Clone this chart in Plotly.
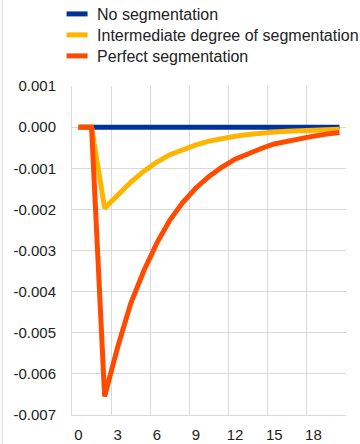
import plotly.graph_objects as go

periods = list(range(21))
x_tick_vals = [0, 3, 6, 9, 12, 15, 18]
x_tick_text = ["0", "3", "6", "9", "12", "15", "18"]
y_tick_vals = [0.001, 0.0, -0.001, -0.002, -0.003, -0.004, -0.005, -0.006, -0.007]
y_tick_text = ["0.001", "0.000", "-0.001", "-0.002", "-0.003", "-0.004", "-0.005", "-0.006", "-0.007"]

series_names = ["No segmentation", "Intermediate degree of segmentation", "Perfect segmentation"]
no_segmentation = [0.0] * 21
intermediate = [0.0, 0.0, -0.00197, -0.00165, -0.00134, -0.00107, -0.00085, -0.00067,
                -0.00054, -0.00043, -0.00034, -0.00027, -0.00022, -0.00018, -0.00014,
                -0.00012, -0.00010, -0.00008, -0.00007, -0.00006, -0.00005]
perfect = [0.0, 0.0, -0.00655, -0.00535, -0.00429, -0.00350, -0.00282, -0.00226,
           -0.00183, -0.00148, -0.00120, -0.00097, -0.00078, -0.00064, -0.00052,
           -0.00041, -0.00034, -0.00027, -0.00022, -0.00017, -0.00013]
colors = ["#003299", "#FFB400", "#FF4B00"]
legend_ids = ["legend", "legend2", "legend3"]

fig = go.Figure()
for name, vals, col in zip(series_names, [no_segmentation, intermediate, perfect], colors):
    fig.add_trace(go.Scatter(x=periods, y=vals, mode="lines", name=name,
                             line=dict(color=col, width=5), showlegend=False))
for name, col, lid in zip(series_names, colors, legend_ids):
    fig.add_trace(go.Scatter(x=[None], y=[None], mode="markers", name=name, legend=lid,
                             marker=dict(symbol="line-ew", size=15, color=col,
                                         line=dict(color=col, width=5))))

grid = "#d9d9d9"
leg_common = dict(x=-0.0545, xanchor="left", yanchor="middle", itemwidth=30,
                  font=dict(size=16, color="#222222"), bgcolor="rgba(0,0,0,0)")
fig.update_layout(
    width=360, height=444,
    margin=dict(l=72, r=14, t=86, b=29, autoexpand=False),
    paper_bgcolor="white", plot_bgcolor="white",
    font=dict(family="Liberation Sans, Arial, sans-serif", size=15, color="#222222"),
    legend=dict(y=1.2188, **leg_common),
    legend2=dict(y=1.155, **leg_common),
    legend3=dict(y=1.0912, **leg_common),
    xaxis=dict(range=[-0.5, 20.5], tickvals=x_tick_vals, ticktext=x_tick_text,
               showgrid=False, zeroline=False, showline=True, linecolor=grid,
               ticks="", ticklabelstandoff=6,
               minor=dict(tick0=-0.5, dtick=3, showgrid=True, gridcolor=grid, gridwidth=1, ticks="")),
    yaxis=dict(range=[-0.007, 0.001], tickvals=y_tick_vals, ticktext=y_tick_text,
               showgrid=True, gridcolor=grid, zeroline=False, showline=True, linecolor=grid,
               ticks="", ticklabelstandoff=12),
    shapes=[dict(type="line", xref="paper", yref="paper", x0=-0.255, x1=-0.255,
                 y0=-0.1, y1=1.3, line=dict(color="#d9d9d9", width=1))],
)
fig.write_html("out.html", config={"displayModeBar": False},
               post_script="document.body.style.margin='0';")
